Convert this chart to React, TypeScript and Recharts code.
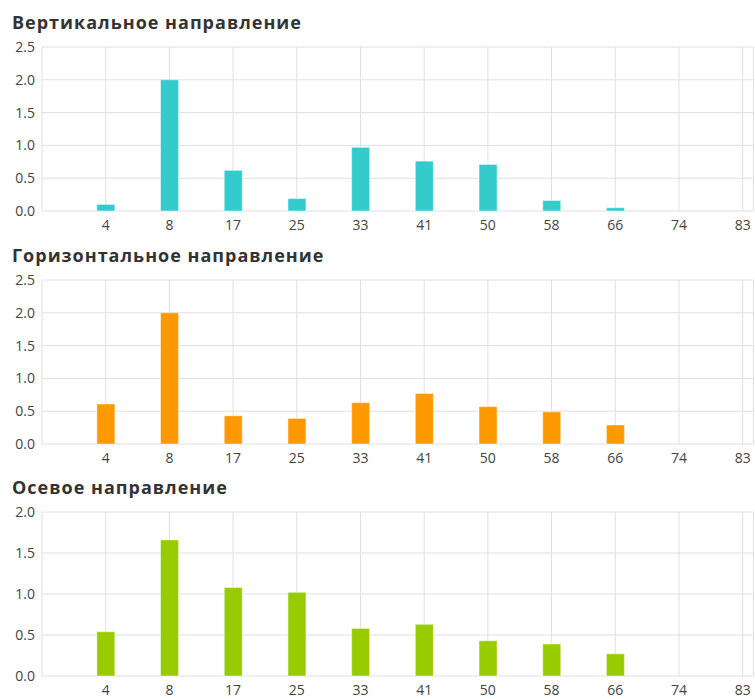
import React from "react";
import { BarChart, Bar, XAxis, YAxis, CartesianGrid } from "recharts";

const labels = ["4", "8", "17", "25", "33", "41", "50", "58", "66", "74", "83"];
const vertical = [0.1, 2.0, 0.62, 0.19, 0.97, 0.76, 0.71, 0.16, 0.05, 0, 0];
const horizontal = [0.61, 2.0, 0.43, 0.39, 0.63, 0.77, 0.57, 0.49, 0.29, 0, 0];
const axial = [0.54, 1.66, 1.08, 1.02, 0.58, 0.63, 0.43, 0.39, 0.27, 0, 0];

const X_MAX = 11.17;
const xTicks = [0, 1, 2, 3, 4, 5, 6, 7, 8, 9, 10, 11, X_MAX];

const font = "'Open Sans', sans-serif";

function toRows(values: number[]) {
  return values.map((v, i) => ({ pos: i + 1, label: labels[i], value: v }));
}

interface PanelProps {
  title: string;
  values: number[];
  color: string;
  yTicks: number[];
  top: number;
}

function Panel({ title, values, color, yTicks, top }: PanelProps) {
  const yMax = yTicks[yTicks.length - 1];
  return (
    <div style={{ position: "absolute", left: 0, top, width: 755, height: 242 }}>
      <div
        style={{
          position: "absolute",
          left: 12,
          top: 10,
          fontFamily: font,
          fontWeight: 700,
          fontSize: 18,
          letterSpacing: 1,
          color: "#333",
          whiteSpace: "nowrap",
        }}
      >
        {title}
      </div>
      <BarChart
        width={755}
        height={242}
        data={toRows(values)}
        margin={{ top: 47, right: 1.5, left: 0, bottom: 9 }}
      >
        <CartesianGrid stroke="#e0e0e0" strokeWidth={1} />
        <XAxis
          dataKey="pos"
          type="number"
          height={22}
          domain={[0, X_MAX]}
          ticks={xTicks}
          interval={0}
          allowDataOverflow
          axisLine={false}
          tickLine={false}
          tickSize={0}
          tickMargin={9}
          tickFormatter={(v: number) => (Number.isInteger(v) && v >= 1 ? labels[v - 1] : "")}
          tick={{ fill: "#444", fontSize: 14, fontFamily: font }}
        />
        <YAxis
          width={42}
          domain={[0, yMax]}
          ticks={yTicks}
          axisLine={false}
          tickLine={false}
          tickSize={0}
          tickMargin={7}
          tickFormatter={(v: number) => v.toFixed(1)}
          tick={{ fill: "#444", fontSize: 14, fontFamily: font }}
        />
        <Bar
          dataKey="value"
          fill={color}
          stroke="rgba(255,255,255,0.45)"
          strokeWidth={1}
          barSize={18}
          isAnimationActive={false}
        />
      </BarChart>
    </div>
  );
}

export default function App() {
  return (
    <div style={{ position: "absolute", left: 0, top: 0, width: 755, height: 699, overflow: "hidden", background: "#fff" }}>
      <Panel title="Вертикальное направление" values={vertical} color="#33CCCC" yTicks={[0, 0.5, 1, 1.5, 2, 2.5]} top={0} />
      <Panel title="Горизонтальное направление" values={horizontal} color="#FF9900" yTicks={[0, 0.5, 1, 1.5, 2, 2.5]} top={233} />
      <Panel title="Осевое направление" values={axial} color="#99CC00" yTicks={[0, 0.5, 1, 1.5, 2]} top={465} />
    </div>
  );
}
